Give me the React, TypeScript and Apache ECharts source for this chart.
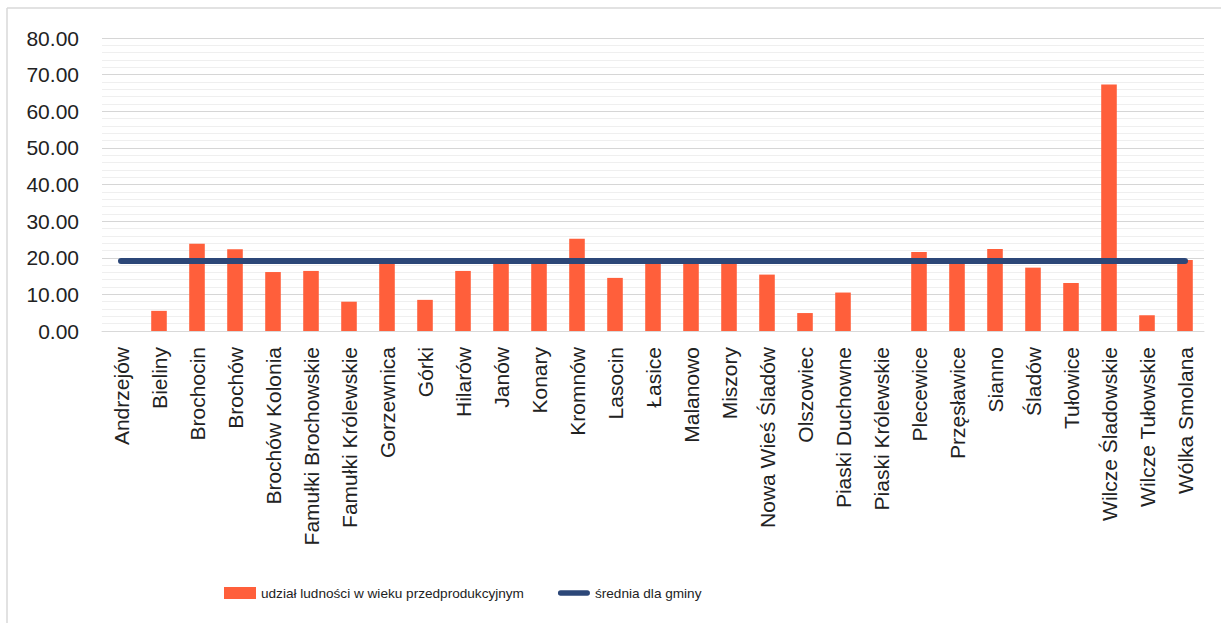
import React, { useEffect, useRef } from "react";
import * as echarts from "echarts";

const categories = [
  "Andrzejów", "Bieliny", "Brochocin", "Brochów", "Brochów Kolonia",
  "Famułki Brochowskie", "Famułki Królewskie", "Gorzewnica", "Górki", "Hilarów",
  "Janów", "Konary", "Kromnów", "Lasocin", "Łasice",
  "Malanowo", "Miszory", "Nowa Wieś Śladów", "Olszowiec", "Piaski Duchowne",
  "Piaski Królewskie", "Plecewice", "Przęsławice", "Sianno", "Śladów",
  "Tułowice", "Wilcze Śladowskie", "Wilcze Tułowskie", "Wólka Smolana",
];

const shareValues = [
  0, 5.5, 23.8, 22.3, 16.1,
  16.4, 8.0, 18.8, 8.5, 16.4,
  18.9, 19.0, 25.2, 14.5, 19.0,
  19.0, 19.0, 15.4, 4.9, 10.5,
  0, 21.6, 19.0, 22.4, 17.3,
  13.1, 67.3, 4.3, 19.4,
];

const meanValue = 19.1;
const meanValues = categories.map(() => meanValue);

const seriesNames = ["udział ludności w wieku przedprodukcyjnym", "średnia dla gminy"];

const lineIcon =
  "path://M2.75,0 H30.25 A2.75,2.75 0 0 1 30.25,5.5 H2.75 A2.75,2.75 0 0 1 2.75,0 Z";

export default function App() {
  const ref = useRef<HTMLDivElement>(null);
  useEffect(() => {
    if (!ref.current) return;
    const chart = echarts.init(ref.current, undefined, { renderer: "svg" });
    chart.setOption({
      animation: false,
      backgroundColor: "#ffffff",
      textStyle: { fontFamily: "Liberation Sans, Arial, sans-serif" },
      graphic: [
        { type: "line", shape: { x1: 7, y1: 8, x2: 7, y2: 623 }, style: { stroke: "#d9d9d9", lineWidth: 1.5 } },
        { type: "line", shape: { x1: 7, y1: 8, x2: 1221, y2: 8 }, style: { stroke: "#d9d9d9", lineWidth: 1.5 } },
      ],
      grid: { left: 102, right: 17, top: 38, bottom: 292, containLabel: false },
      legend: {
        left: 219,
        top: 581,
        itemWidth: 32,
        itemHeight: 12,
        itemGap: 34,
        symbolKeepAspect: true,
        textStyle: {
          fontFamily: "Liberation Sans, Arial, sans-serif",
          fontSize: 13.6,
          color: "#222",
        },
        data: [
          { name: seriesNames[0], icon: "rect" },
          { name: seriesNames[1], icon: lineIcon },
        ],
      },
      xAxis: {
        type: "category",
        data: categories,
        boundaryGap: true,
        axisLine: { show: true, lineStyle: { color: "#d9d9d9", width: 1 } },
        axisTick: { show: false },
        axisLabel: {
          rotate: 90,
          interval: 0,
          margin: 16,
          fontSize: 21,
          color: "#222",
          fontFamily: "Liberation Sans, Arial, sans-serif",
        },
      },
      yAxis: {
        type: "value",
        min: 0,
        max: 80,
        interval: 10,
        axisLine: { show: false },
        axisTick: { show: false },
        axisLabel: {
          margin: 23,
          fontSize: 21,
          color: "#222",
          formatter: (v: number) => v.toFixed(2),
        },
        splitLine: { show: true, lineStyle: { color: "#d6d6d6", width: 1 } },
        minorTick: { show: false, splitNumber: 5 },
        minorSplitLine: { show: true, lineStyle: { color: "#efefef", width: 1 } },
      },
      series: [
        {
          name: seriesNames[0],
          type: "bar",
          data: shareValues,
          barWidth: "41%",
          itemStyle: { color: "#ff5f3b", borderWidth: 0 },
        },
        {
          name: seriesNames[1],
          type: "line",
          data: meanValues,
          symbol: "none",
          lineStyle: { color: "#2c4778", width: 6, cap: "round" },
          itemStyle: { color: "#2c4778" },
        },
      ],
    });
    return () => chart.dispose();
  }, []);
  return (
    <div
      ref={ref}
      style={{ position: "fixed", left: 0, top: 0, width: 1221, height: 623 }}
    />
  );
}
